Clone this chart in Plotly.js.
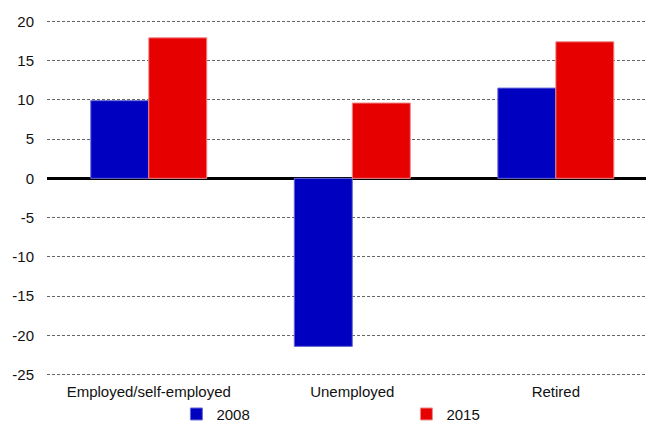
<!DOCTYPE html>
<html>
<head>
<meta charset="utf-8">
<script src="https://cdn.plot.ly/plotly-3.0.1.min.js"></script>
<style>html,body{margin:0;padding:0;background:#fff;}#chart{width:646px;height:423px;}</style>
</head>
<body>
<div id="chart"></div>
<script>
const categories = ["Employed/self-employed", "Unemployed", "Retired"];
const series2008 = [9.9, -21.4, 11.5];
const series2015 = [17.9, 9.6, 17.4];
const yTicks = [-25, -20, -15, -10, -5, 0, 5, 10, 15, 20];

const traces = [
  {type: 'bar', name: '2008', x: categories, y: series2008,
   marker: {color: '#0000C0', line: {color: '#6a6ad8', width: 1}}, legend: 'legend'},
  {type: 'bar', name: '2015', x: categories, y: series2015,
   marker: {color: '#E60000', line: {color: '#f08a8a', width: 1}}, legend: 'legend2'}
];

const font = {family: 'Liberation Sans, Arial, sans-serif', size: 15, color: '#111'};

const layout = {
  width: 646, height: 423,
  margin: {l: 47, r: 0, t: 19, b: 46, autoexpand: false},
  paper_bgcolor: '#fff', plot_bgcolor: '#fff',
  font: font,
  barmode: 'group', bargap: 0.43, bargroupgap: 0,
  showlegend: true,
  xaxis: {
    type: 'category', range: [-0.5, 2.443],
    showgrid: false, zeroline: false, showline: false, ticks: '',
    tickfont: font, ticklabelstandoff: 4, fixedrange: true
  },
  yaxis: {
    range: [-25.3, 20.3], tickvals: yTicks, ticktext: yTicks.map(String),
    showgrid: true, gridcolor: '#666', griddash: '3px,2px', gridwidth: 1,
    zeroline: true, zerolinecolor: '#000', zerolinewidth: 2.5,
    showline: false, ticks: '', tickfont: font, ticklabelstandoff: 12, fixedrange: true
  },
  legend: {orientation: 'h', x: 0.216, xanchor: 'left', y: -0.104, yanchor: 'middle',
    font: font, bgcolor: 'rgba(0,0,0,0)', itemwidth: 30},
  legend2: {orientation: 'h', x: 0.6, xanchor: 'left', y: -0.104, yanchor: 'middle',
    font: font, bgcolor: 'rgba(0,0,0,0)', itemwidth: 30}
};

Plotly.newPlot('chart', traces, layout, {displayModeBar: false, staticPlot: true});
</script>
</body>
</html>
